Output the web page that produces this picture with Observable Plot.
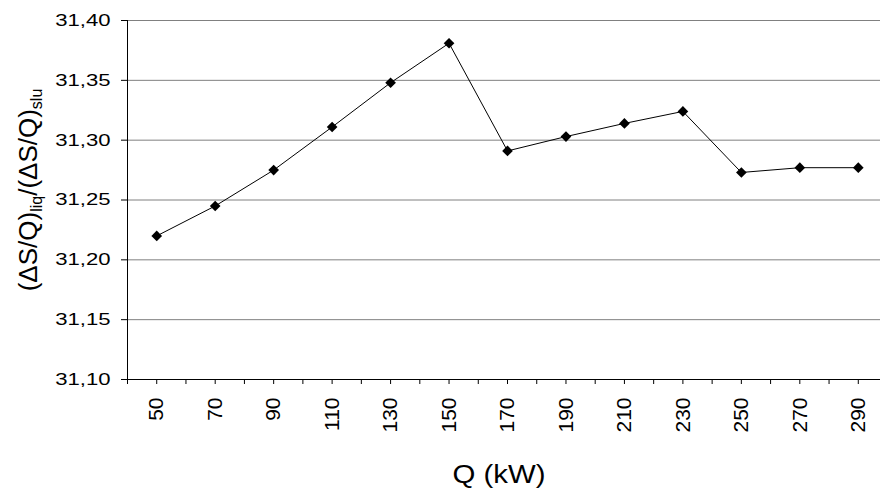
<!DOCTYPE html>
<html><head><meta charset="utf-8">
<script src="https://cdn.jsdelivr.net/npm/d3@7"></script>
<script src="https://cdn.jsdelivr.net/npm/@observablehq/plot@0.6"></script>
<style>body{margin:0;background:#fff} svg{display:block}</style>
</head><body><div id="chart"></div>
<script>
// Data
const qValues = [50, 70, 90, 110, 130, 150, 170, 190, 210, 230, 250, 270, 290];
const ratioValues = [31.220, 31.245, 31.275, 31.311, 31.348, 31.381, 31.291, 31.303, 31.314, 31.324, 31.273, 31.277, 31.277];
const xTickLabels = [50, 70, 90, 110, 130, 150, 170, 190, 210, 230, 250, 270, 290];
const xTickMarks = [40, 50, 60, 70, 80, 90, 100, 110, 120, 130, 140, 150, 160, 170, 180, 190, 200, 210, 220, 230, 240, 250, 260, 270, 280, 290];
const yTicks = [31.10, 31.15, 31.20, 31.25, 31.30, 31.35, 31.40];
const xTitle = "Q (kW)";

const data = qValues.map((q, i) => ({q, r: ratioValues[i]}));
const fmt = d => d.toFixed(2).replace(".", ",");
const FONT = "'Liberation Sans', Arial, sans-serif";

const plot = Plot.plot({
  width: 880, height: 492,
  marginLeft: 127, marginRight: 0, marginTop: 20, marginBottom: 113,
  style: {fontFamily: FONT, background: "#fff", color: "#000"},
  x: {type: "linear", domain: [40, 297.6]},
  y: {domain: [31.10, 31.40]},
  marks: [
    Plot.gridY(yTicks.slice(1), {stroke: "#808080", strokeOpacity: 1}),
    Plot.ruleX([40], {stroke: "#000"}),
    Plot.ruleY([31.10], {stroke: "#000"}),
    Plot.axisY(yTicks, {tickSize: 6, tickPadding: 11, tickFormat: fmt, fontSize: 17, label: null, stroke: "#000"}),
    Plot.axisX(xTickMarks, {tickSize: 5, tickFormat: () => "", label: null, stroke: "#000"}),
    Plot.axisX(xTickLabels, {tickSize: 0, tickPadding: 18, tickRotate: -90, fontSize: 21, label: null}),
    Plot.line(data, {x: "q", y: "r", stroke: "#000", strokeWidth: 1}),
    Plot.dot(data, {x: "q", y: "r", symbol: "diamond2", r: 4.8, fill: "#000", stroke: "none"})
  ]
});
document.getElementById("chart").append(plot);

const svg = d3.select(plot);
// stretch y tick labels horizontally like the reference
svg.selectAll('g[aria-label="y-axis tick label"] text').each(function() {
  const w = this.getComputedTextLength();
  this.setAttribute("textLength", w * 1.3);
  this.setAttribute("lengthAdjust", "spacingAndGlyphs");
});

// x-axis title
const xt = svg.append("text")
  .attr("x", 499).attr("y", 483)
  .attr("text-anchor", "middle")
  .attr("font-family", FONT).attr("font-size", 26).attr("fill", "#000")
  .text(xTitle);
xt.attr("textLength", 93).attr("lengthAdjust", "spacingAndGlyphs");

// y-axis title with subscripts
const yt = svg.append("text")
  .attr("transform", "translate(37,190) rotate(-90)")
  .attr("text-anchor", "middle")
  .attr("font-family", FONT).attr("font-size", 26).attr("fill", "#000");
yt.append("tspan").text("(ΔS/Q)");
yt.append("tspan").attr("font-size", 16).attr("dy", 5).text("liq");
yt.append("tspan").attr("dy", -5).text("/(ΔS/Q)");
yt.append("tspan").attr("font-size", 16).attr("dy", 5).text("slu");
</script>
</body></html>
